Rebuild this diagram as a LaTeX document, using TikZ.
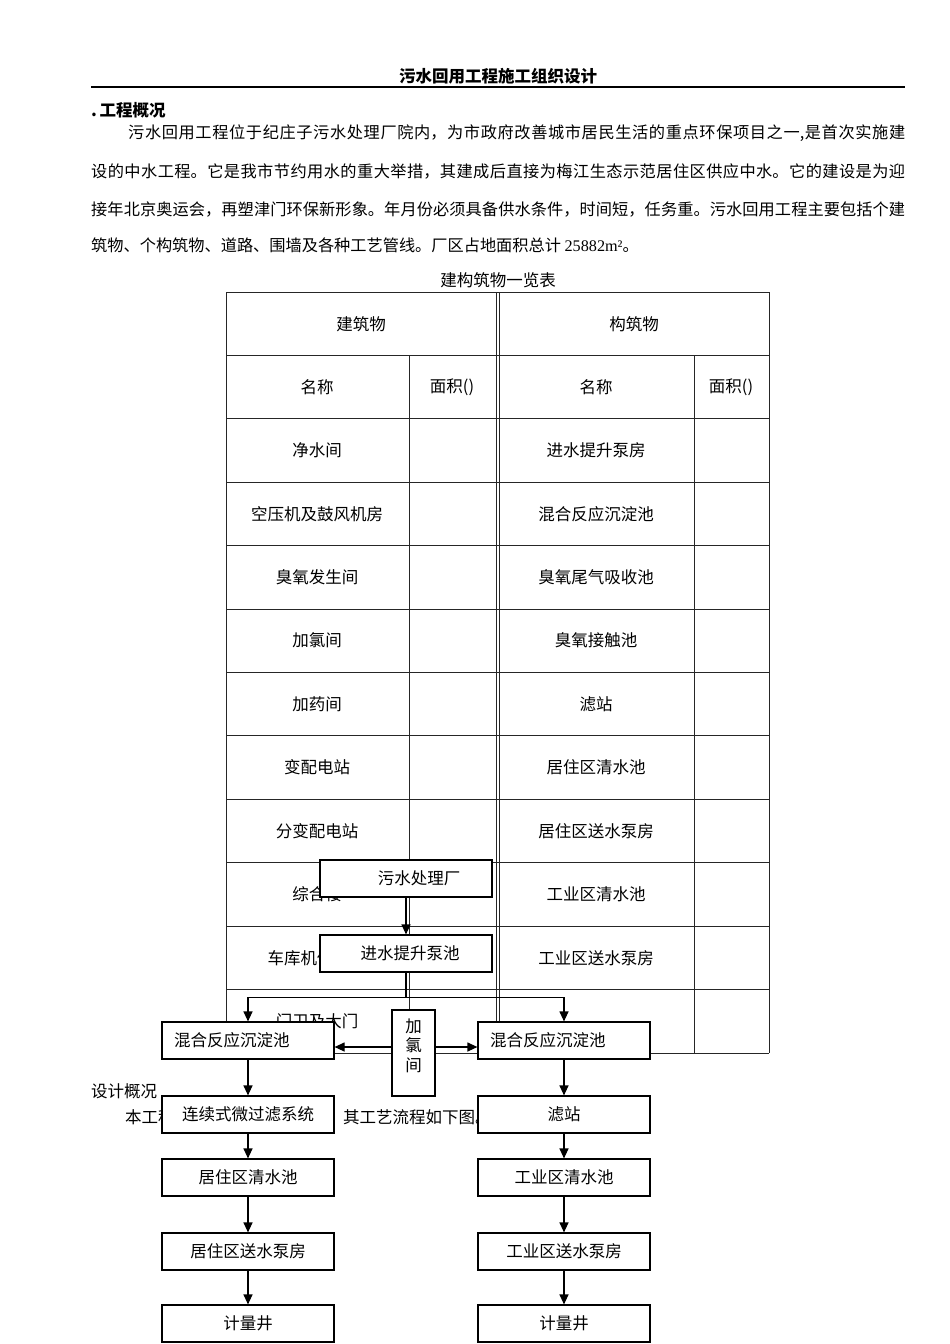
\documentclass[tikz,border=0pt]{standalone}
\usepackage{fontspec}
\setmainfont{Liberation Serif}
\newfontfamily\cjk{Noto Sans CJK SC}
\usepackage{tikz}
\usetikzlibrary{arrows.meta,positioning}
\XeTeXlinebreaklocale "zh"
\XeTeXlinebreakskip=0pt plus 4pt minus 0.5pt
\newcommand\zw{\cjk\fontsize{16.5}{20}\selectfont}
\newcommand\zwp{\cjk\fontsize{16.2}{20}\selectfont}
\newcommand\zwv{\cjk\fontsize{16.5}{19.5}\selectfont}
\newcommand\fullline[2]{\parbox{#1}{\parfillskip=0pt\parindent=0pt #2}}
\tikzset{
  txt/.style={anchor=west, inner sep=0pt, font=\zw},
  para/.style={txt, font=\zwp},
  head/.style={inner sep=0pt, font=\zw\bfseries},
  tab/line/.style={line width=0.9pt, black!85},
  tab/cell/.style={inner sep=0pt, font=\zw},
  flow/box/.style={draw, line width=1.2pt, fill=white, minimum width=172pt, minimum height=37pt, inner sep=0pt, align=center, font=\zw},
  flow/boxl/.style={flow/box, text width=148pt, align=left},
  flow/arr/.style={line width=1.2pt, -{Triangle[length=10pt,width=9pt]}}
}
\begin{document}
\begin{tikzpicture}[x=1pt,y=-1pt]
\fill[white] (0,0) rectangle (950,1344);
\useasboundingbox (0,0) rectangle (950,1344);
% page head and text
\node[head] (title) at (498,76) {污水回用工程施工组织设计};
\draw[line width=1.4pt] (91,87) -- (905,87);
\node[txt, font=\zw\bfseries] (sec) at (91,110) {.\,工程概况};
\node[para] (p1) at (128,133) {\fullline{777pt}{污水回用工程位于纪庄子污水处理厂院内，为市政府改善城市居民生活的重点环保项目之一,是首次实施建}};
\node[para] (p2) at (91,171) {\fullline{814pt}{设的中水工程。它是我市节约用水的重大举措，其建成后直接为梅江生态示范居住区供应中水。它的建设是为迎}};
\node[para] (p3) at (91,209) {\fullline{814pt}{接年北京奥运会，再塑津门环保新形象。年月份必须具备供水条件，时间短，任务重。污水回用工程主要包括个建}};
\node[para] (p4) at (91,245) {筑物、个构筑物、道路、围墙及各种工艺管线。厂区占地面积总计 {\rmfamily 25882m²}。};
% table
\node[tab/cell] (cap) at (498,280) {建构筑物一览表};
\foreach \i in {0,...,12}
  \draw[tab/line] (226,{292+63.42*\i}) -- (769,{292+63.42*\i});
\foreach \x in {226,496,499,769}
  \draw[tab/line] (\x,292) -- (\x,1053);
\foreach \x in {409,694}
  \draw[tab/line] (\x,355.42) -- (\x,1053);
\node[tab/cell] (bh) at (361,324) {建筑物};
\node[tab/cell] (gh) at (634,324) {构筑物};
\node[tab/cell] (bn) at (317,387) {名称};
\node[tab/cell] (ba) at (452,387) {面积()};
\node[tab/cell] (gn) at (596,387) {名称};
\node[tab/cell] (ga) at (731,387) {面积()};
\foreach \name [count=\i] in {净水间,空压机及鼓风机房,臭氧发生间,加氯间,加药间,变配电站,分变配电站,综合楼,车库机修车间,门卫及大门}
  \node[tab/cell] (b\i) at (317,{387+63.42*\i}) {\name};
\foreach \name [count=\i] in {进水提升泵房,混合反应沉淀池,臭氧尾气吸收池,臭氧接触池,滤站,居住区清水池,居住区送水泵房,工业区清水池,工业区送水泵房}
  \node[tab/cell] (g\i) at (596,{387+63.42*\i}) {\name};
\node[txt] (sj) at (91,1091) {设计概况};
\node[txt] (bg) at (125,1117) {本工程};
\node[txt] (qg) at (343,1117) {其工艺流程如下图。};
% flow chart
\node[flow/box] (wsc) at (406,878.5) {\hspace*{26pt}污水处理厂};
\node[flow/box] (jin) at (406,953.5) {\hspace*{8pt}进水提升泵池};
\node[flow/boxl] (hunL) at (248,1040.5) {混合反应沉淀池};
\node[flow/boxl] (hunR) at (564,1040.5) {混合反应沉淀池};
\node[flow/box, minimum width=43pt, minimum height=86pt, text depth=16pt, font=\zwv] (jlj) at (413.5,1053) {加\\氯\\间};
\node[flow/box] (lxs) at (248,1114.5) {连续式微过滤系统};
\node[flow/box] (jqs) at (248,1177.5) {居住区清水池};
\node[flow/box] (jsb) at (248,1251.5) {居住区送水泵房};
\node[flow/box] (jlL) at (248,1323.5) {计量井};
\node[flow/box] (lz) at (564,1114.5) {滤站};
\node[flow/box] (gqs) at (564,1177.5) {工业区清水池};
\node[flow/box] (gsb) at (564,1251.5) {工业区送水泵房};
\node[flow/box] (jlR) at (564,1323.5) {计量井};
\draw[flow/arr] (wsc) -- (jin);
\draw[flow/arr] (jin.south) -- ++(0,25) -| (hunL.north);
\draw[flow/arr] (jin.south) -- ++(0,25) -| (hunR.north);
\draw[flow/arr] ([yshift=6pt]jlj.west) -- ([yshift=-6.5pt]hunL.east);
\draw[flow/arr] ([yshift=6pt]jlj.east) -- ([yshift=-6.5pt]hunR.west);
\foreach \a/\b in {hunL/lxs,lxs/jqs,jqs/jsb,jsb/jlL,hunR/lz,lz/gqs,gqs/gsb,gsb/jlR}
  \draw[flow/arr] (\a) -- (\b);
\end{tikzpicture}
\end{document}
